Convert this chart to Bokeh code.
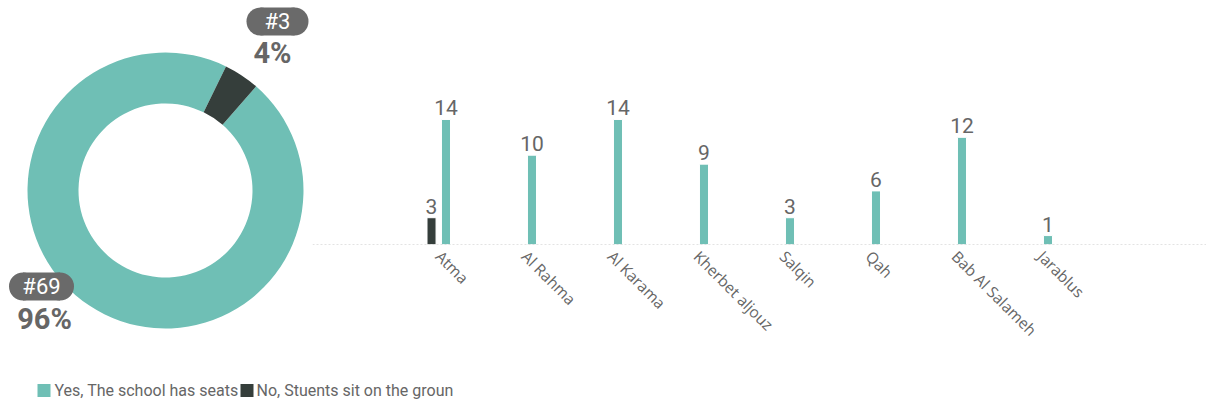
import math
from bokeh.plotting import figure
from bokeh.layouts import column, row
from bokeh.models import Range1d, FixedTicker, Span, ColumnDataSource
from bokeh.core.properties import value
from bokeh.embed import file_html
from bokeh.resources import INLINE

# ---------------- data ----------------
pie_labels = ["Yes, The school has seats", "No, Stuents sit on the groun"]
pie_values = [69, 3]
categories = ["Atma", "Al Rahma", "Al Karama", "Kherbet aljouz", "Salqin", "Qah", "Bab Al Salameh", "Jarablus"]
yes_values = [14, 10, 14, 9, 3, 6, 12, 1]
no_values = [3, 0, 0, 0, 0, 0, 0, 0]

TEAL = "#6fbfb5"
DARK = "#353e3b"
GREY = "#666666"
FONT = "Roboto"
LFONT = "Open Sans"

W_DONUT = 312
H_TOP = 355

# ---------------- donut ----------------
dp = figure(width=W_DONUT, height=H_TOP, x_range=Range1d(0, W_DONUT), y_range=Range1d(0, H_TOP),
            output_backend="svg", toolbar_location=None,
            min_border=0, outline_line_color=None)
dp.frame_align = False
dp.axis.visible = False
dp.grid.visible = False

total = sum(pie_values)
start_cw = 41.0  # degrees clockwise from top where first slice starts
starts, ends = [], []
acc = start_cw
for v in pie_values:
    a0 = acc
    a1 = acc + v / total * 360.0
    acc = a1
    starts.append(math.radians(90 - a1))
    ends.append(math.radians(90 - a0))
cx, cy = 165, H_TOP - 190
dp.annular_wedge(x=[cx] * len(pie_values), y=[cy] * len(pie_values), inner_radius=87, outer_radius=138,
                 start_angle=starts, end_angle=ends, color=[TEAL, DARK], line_color=None)

pcts = [f"{round(v / total * 100)}%" for v in pie_values]
counts = [f"#{v}" for v in pie_values]
# label positions (style): yes label lower-left, no label upper-right
lab_pos = [(41, H_TOP - 286, 65, 44, H_TOP - 318), (277, H_TOP - 21, 62, 272, H_TOP - 52)]
for (bx, by, bw, px, py), c, pc in zip(lab_pos, counts, pcts):
    bh = 28
    dp.rect(x=bx, y=by, width=bw - bh, height=bh, color="#6a6a6a", line_color=None)
    dp.circle(x=[bx - (bw - bh) / 2, bx + (bw - bh) / 2], y=[by, by], radius=bh / 2, color="#6a6a6a", line_color=None)
    dp.text(x=[bx], y=[by], text=[c], text_align="center", text_baseline="middle",
            text_color="white", text_font_size="22px", text_font=value(FONT))
    dp.text(x=[px], y=[py], text=[pc], text_align="center", text_baseline="middle",
            text_color=GREY, text_font_size="29px", text_font_style="bold", text_font=value(FONT))

# ---------------- bars ----------------
px_per_cat = 86.0
first_center = 438.25
left_px, right_px = W_DONUT, 1206
bp = figure(width=right_px - left_px, height=H_TOP,
            x_range=Range1d((left_px - first_center) / px_per_cat, (right_px - first_center) / px_per_cat),
            y_range=Range1d(0, 244 / 8.93),
            output_backend="svg", toolbar_location=None,
            min_border_left=0, min_border_right=0, min_border_top=0, min_border_bottom=111,
            outline_line_color=None)
bp.frame_align = False
bp.grid.visible = False
bp.yaxis.visible = False
xi = list(range(len(categories)))
bp.xaxis.ticker = FixedTicker(ticks=xi)
bp.xaxis.major_label_overrides = {i: c for i, c in enumerate(categories)}
bp.xaxis.major_label_orientation = -math.pi / 4
bp.xaxis.axis_line_color = None
bp.xaxis.major_tick_line_color = None
bp.xaxis.minor_tick_line_color = None
bp.xaxis.major_label_text_color = GREY
bp.xaxis.major_label_text_font_size = "15.5px"
bp.xaxis.major_label_text_font = LFONT
bp.xaxis.major_label_standoff = 3

bp.add_layout(Span(location=0, dimension="width", line_color="#c8c8c8", line_dash="2 2", line_width=1))

off = 0.084
bw = 0.105
yes_src = ColumnDataSource(dict(x=[i + off for i in xi], top=yes_values, lab=[str(v) for v in yes_values]))
nx = [i - off for i, v in zip(xi, no_values) if v > 0]
nv = [v for v in no_values if v > 0]
no_src = ColumnDataSource(dict(x=nx, top=nv, lab=[str(v) for v in nv]))
bp.vbar(x="x", top="top", width=bw, source=yes_src, color=TEAL, line_color="white", line_width=1)
bp.vbar(x="x", top="top", width=bw, source=no_src, color=DARK, line_color="white", line_width=1)
for src in (yes_src, no_src):
    bp.text(x="x", y="top", text="lab", source=src, text_align="center", text_baseline="bottom",
            y_offset=-4, text_color=GREY, text_font_size="21px", text_font=value(FONT))

# ---------------- legend ----------------
lp = figure(width=1206, height=48, x_range=Range1d(0, 1206), y_range=Range1d(0, 48),
            output_backend="svg", toolbar_location=None, min_border=0, outline_line_color=None)
lp.frame_align = False
lp.axis.visible = False
lp.grid.visible = False
sq_x = [43.5, 246.5]
lp.rect(x=sq_x, y=[13, 13], width=13, height=13, color=[TEAL, DARK], line_color=None)
lp.text(x=[54, 256], y=[13, 13], text=pie_labels, text_align="left", text_baseline="middle",
        text_color=GREY, text_font_size="16px", text_font=value(FONT))

layout = column(row(dp, bp), lp)
open("out.html", "w").write(file_html(layout, INLINE))
